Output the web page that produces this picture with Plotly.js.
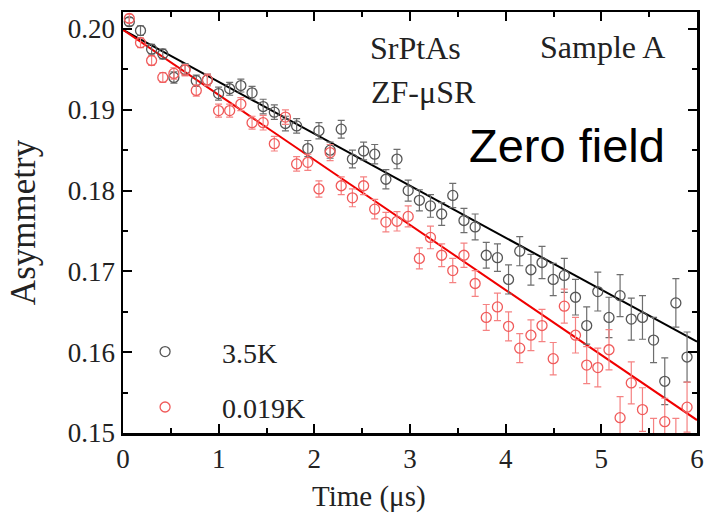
<!DOCTYPE html>
<html>
<head>
<meta charset="utf-8">
<script src="https://cdn.plot.ly/plotly-3.0.1.min.js"></script>
<style>html,body{margin:0;padding:0;background:#fff;}#chart{width:704px;height:521px;}</style>
</head>
<body>
<div id="chart"></div>
<script>
// Time values (μs)
var timeUs = [0.066, 0.183, 0.299, 0.416, 0.532, 0.649, 0.766, 0.882, 0.999, 1.115,
  1.232, 1.349, 1.465, 1.582, 1.698, 1.815, 1.932, 2.048, 2.165, 2.281,
  2.398, 2.515, 2.631, 2.748, 2.864, 2.981, 3.098, 3.214, 3.331, 3.447,
  3.564, 3.681, 3.797, 3.914, 4.030, 4.147, 4.264, 4.380, 4.497, 4.613,
  4.730, 4.847, 4.963, 5.080, 5.196, 5.313, 5.430, 5.546, 5.663, 5.779, 5.896];

// 3.5K asymmetry
var asym35K = [0.2009, 0.1998, 0.1975, 0.1969, 0.1940, 0.1950, 0.1936, 0.1937, 0.1920, 0.1926,
  0.1930, 0.1921, 0.1904, 0.1897, 0.1883, 0.1880, 0.1852, 0.1874, 0.1850, 0.1876,
  0.1839, 0.1849, 0.1845, 0.1814, 0.1839, 0.1800, 0.1788, 0.1781, 0.1771, 0.1794,
  0.1763, 0.1755, 0.1720, 0.1717, 0.1690, 0.1725, 0.1702, 0.1711, 0.1690, 0.1695,
  0.1668, 0.1633, 0.1675, 0.1643, 0.1670, 0.1641, 0.1643, 0.1615, 0.1564, 0.1661, 0.1594];

// 0.019K asymmetry
var asym0019K = [0.2013, 0.1983, 0.1961, 0.1940, 0.1945, 0.1949, 0.1924, 0.1937, 0.1899, 0.1899,
  0.1907, 0.1884, 0.1884, 0.1858, 0.1891, 0.1833, 0.1835, 0.1802, 0.1847, 0.1806,
  0.1791, 0.1806, 0.1777, 0.1761, 0.1762, 0.1768, 0.1716, 0.1742, 0.1720, 0.1701,
  0.1720, 0.1685, 0.1643, 0.1656, 0.1632, 0.1605, 0.1621, 0.1633, 0.1592, 0.1657,
  0.1621, 0.1584, 0.1581, 0.1603, 0.1519, 0.1562, 0.1529, 0.1490, 0.1514, 0.1488, 0.1532];

// error bars (±)
var asymErr = [0.0005, 0.0006, 0.0006, 0.0006, 0.0007, 0.0007, 0.0007, 0.0007, 0.0008, 0.0008,
  0.0008, 0.0008, 0.0009, 0.0009, 0.0009, 0.0009, 0.0010, 0.0010, 0.0010, 0.0011,
  0.0011, 0.0011, 0.0012, 0.0012, 0.0012, 0.0013, 0.0013, 0.0014, 0.0014, 0.0015,
  0.0015, 0.0016, 0.0016, 0.0017, 0.0018, 0.0018, 0.0019, 0.0020, 0.0020, 0.0021,
  0.0022, 0.0023, 0.0024, 0.0025, 0.0026, 0.0026, 0.0027, 0.0028, 0.0029, 0.0030, 0.0031];

// fit lines
var fitT = [0, 6];
var fit35K = [0.1999, 0.1613];
var fit0019K = [0.1999, 0.1516];

var seriesNames = ['3.5K', '0.019K'];

var serif = 'Liberation Serif, Times New Roman, serif';

var traces = [
  {x: fitT, y: fit35K, mode: 'lines', line: {color: '#000', width: 2}, showlegend: false, hoverinfo: 'skip'},
  {x: fitT, y: fit0019K, mode: 'lines', line: {color: 'rgb(240,0,0)', width: 2}, showlegend: false, hoverinfo: 'skip'},
  {x: timeUs, y: asym35K, name: seriesNames[0], legendgroup: 'a', mode: 'markers', cliponaxis: true,
   marker: {symbol: 'circle-open', size: 10, color: 'rgb(85,85,85)', line: {width: 1.3}},
   error_y: {type: 'data', array: asymErr, visible: true, color: 'rgb(110,110,110)', thickness: 1.2, width: 3.5}},
  {x: timeUs, y: asym0019K, name: seriesNames[1], legendgroup: 'b', mode: 'markers', cliponaxis: true,
   marker: {symbol: 'circle-open', size: 10, color: 'rgb(240,90,90)', line: {width: 1.3}},
   error_y: {type: 'data', array: asymErr, visible: true, color: 'rgb(245,130,130)', thickness: 1.2, width: 3.5}}
];

var axisCommon = {
  showline: true, linecolor: '#000', linewidth: 2.5, mirror: 'allticks',
  ticks: 'inside', ticklen: 9, tickwidth: 2, tickcolor: '#000',
  showgrid: false, zeroline: false,
  tickfont: {family: serif, size: 27, color: '#222'}
};

var layout = {
  width: 704, height: 521,
  margin: {l: 123, r: 7, t: 12, b: 88},
  paper_bgcolor: '#fff', plot_bgcolor: '#fff',
  showlegend: true,
  legend: {x: -0.026, xanchor: 'left', y: 0.252, yanchor: 'top', bgcolor: 'rgba(0,0,0,0)',
           font: {family: serif, size: 28, color: '#222'}, itemwidth: 104,
           traceorder: 'grouped', tracegroupgap: 16},
  xaxis: Object.assign({}, axisCommon, {
    range: [0, 6], dtick: 1, tick0: 0,
    minor: {ticks: 'inside', ticklen: 5, tickwidth: 2, dtick: 0.5, tickcolor: '#000'}
  }),
  yaxis: Object.assign({}, axisCommon, {
    range: [0.15, 0.2021], dtick: 0.01, tick0: 0.15, tickformat: '.2f',
    minor: {ticks: 'inside', ticklen: 5, tickwidth: 2, dtick: 0.005, tickcolor: '#000'},
    title: {text: 'Asymmetry', font: {family: serif, size: 35, color: '#222'}, standoff: 22}
  }),
  annotations: [
    {xref: 'paper', yref: 'paper', x: 0.4286, y: -0.152, xanchor: 'center', yanchor: 'middle', showarrow: false,
     text: 'Time (μs)', font: {family: serif, size: 29, color: '#222'}},
    {xref: 'paper', yref: 'paper', x: 0.509, y: 0.915, xanchor: 'center', yanchor: 'middle', showarrow: false,
     text: 'SrPtAs', font: {family: serif, size: 32, color: '#222'}},
    {xref: 'paper', yref: 'paper', x: 0.523, y: 0.81, xanchor: 'center', yanchor: 'middle', showarrow: false,
     text: 'ZF-μSR', font: {family: serif, size: 32, color: '#222'}},
    {xref: 'paper', yref: 'paper', x: 0.836, y: 0.918, xanchor: 'center', yanchor: 'middle', showarrow: false,
     text: 'Sample A', font: {family: serif, size: 32, color: '#222'}},
    {xref: 'paper', yref: 'paper', x: 0.774, y: 0.684, xanchor: 'center', yanchor: 'middle', showarrow: false,
     text: 'Zero field', font: {family: 'Liberation Sans, Arial, sans-serif', size: 47, color: '#000'}}
  ]
};

Plotly.newPlot('chart', traces, layout, {displayModeBar: false, staticPlot: true});
</script>
</body>
</html>
